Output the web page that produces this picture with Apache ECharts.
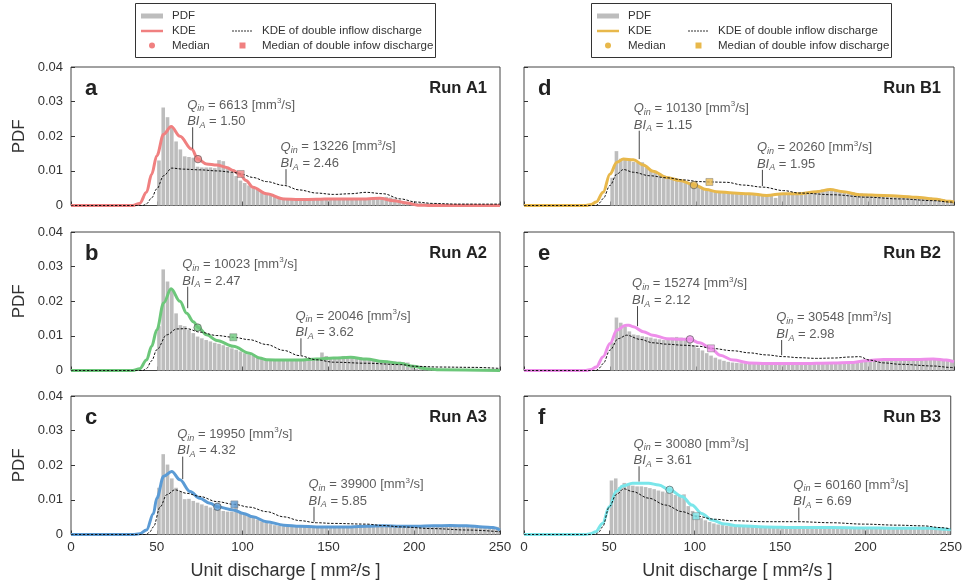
<!DOCTYPE html>
<html><head><meta charset="utf-8">
<script src="https://cdn.jsdelivr.net/npm/echarts/dist/echarts.min.js"></script>
<style>html,body{margin:0;padding:0;background:#fff}#c{width:965px;height:585px}</style>
</head><body><div id="c"></div>
<script>
// ---------------- data ----------------
const xTicks = [0, 50, 100, 150, 200, 250];
const yTicks = [0, 0.01, 0.02, 0.03, 0.04];
const binWidth = 2.5;
const binStarts = [50,52.5,55,57.5,60,62.5,65,67.5,70,72.5,75,77.5,80,82.5,85,87.5,90,92.5,95,97.5,
 100,102.5,105,107.5,110,112.5,115,117.5,120,122.5,125,127.5,130,132.5,135,137.5,140,142.5,145,147.5,
 150,152.5,155,157.5,160,162.5,165,167.5,170,172.5,175,177.5,180,182.5,185,187.5,190,192.5,195,197.5,
 200,202.5,205,207.5,210,212.5,215,217.5,220,222.5,225,227.5,230,232.5,235,237.5,240,242.5,245,247.5];

const histA1 = [0.013,0.0283,0.0255,0.0226,0.0185,0.0162,0.0142,0.014,0.0138,0.0112,0.011,0.011,0.011,0.0108,0.0131,0.0128,0.0112,0.0095,0.0085,0.0072,
 0.0065,0.0058,0.005,0.0045,0.004,0.0035,0.003,0.0027,0.0024,0.0022,0.002,0.002,0.0019,0.0018,0.0018,0.0018,0.0017,0.0017,0.0018,0.0018,
 0.0018,0.0019,0.0019,0.0018,0.0019,0.0019,0.0018,0.0019,0.002,0.002,0.0021,0.0022,0.0023,0.0025,0.0023,0.002,0.0016,0.0013,0.001,0.0008,
 0.0007,0.0007,0.0006,0.0006,0.0006,0.0006,0.0005,0.0005,0.0005,0.0005,0.0005,0.0005,0.0005,0.0005,0.0004,0.0004,0.0004,0.0004,0.0004,0.0004];
const histA2 = [0.0128,0.0292,0.0257,0.0234,0.0165,0.0131,0.0128,0.0118,0.0108,0.0098,0.0093,0.0088,0.0084,0.008,0.0077,0.0073,0.0068,0.0064,0.006,0.0055,
 0.005,0.0046,0.0042,0.0038,0.0035,0.0033,0.0031,0.0031,0.003,0.003,0.003,0.003,0.0031,0.0031,0.0032,0.0032,0.0033,0.0035,0.0052,0.0042,
 0.0038,0.0037,0.0038,0.0042,0.0041,0.004,0.0039,0.0038,0.0036,0.0034,0.0032,0.003,0.0029,0.0028,0.0027,0.0026,0.0025,0.0024,0.0023,0.0012,
 0.0005,0.0004,0.0004,0.0004,0.0004,0.0004,0.0004,0.0004,0.0004,0.0004,0.0004,0.0004,0.0004,0.0004,0.0004,0.0004,0.0004,0.0004,0.0004,0.0004];
const histA3 = [0.0135,0.0232,0.0202,0.0162,0.0135,0.0125,0.0102,0.0103,0.0097,0.0092,0.0087,0.0083,0.0078,0.0074,0.0071,0.0068,0.0066,0.0066,0.0093,0.0065,
 0.0058,0.0053,0.0048,0.0043,0.0038,0.0034,0.003,0.0027,0.0025,0.0024,0.0023,0.0022,0.0022,0.0022,0.0023,0.0022,0.0022,0.0021,0.0022,0.0022,
 0.0022,0.0022,0.0023,0.0022,0.0023,0.0024,0.0024,0.0023,0.0025,0.0025,0.0024,0.0025,0.0024,0.0025,0.0024,0.0024,0.0025,0.0024,0.0024,0.0025,
 0.0024,0.0025,0.0025,0.0026,0.0026,0.0025,0.0026,0.0027,0.0026,0.0027,0.0026,0.0027,0.0026,0.0025,0.0025,0.0024,0.0023,0.0023,0.0022,0.0022];
const histB1 = [0.008,0.0157,0.0135,0.0132,0.0129,0.0126,0.0124,0.0125,0.011,0.0102,0.0096,0.0092,0.0087,0.0083,0.008,0.0077,0.0072,0.0068,0.0064,0.006,
 0.0055,0.0049,0.0045,0.0042,0.004,0.0038,0.0037,0.0036,0.0036,0.0035,0.0035,0.0034,0.0034,0.0033,0.0032,0.0031,0.0031,0.003,0.0022,0.003,
 0.0033,0.0035,0.0036,0.0036,0.0037,0.0038,0.004,0.0042,0.0044,0.0046,0.0047,0.0047,0.0046,0.0044,0.0042,0.004,0.0038,0.0036,0.0035,0.0034,
 0.0033,0.0032,0.0031,0.0031,0.003,0.003,0.0029,0.0029,0.0028,0.0028,0.0027,0.0026,0.0025,0.0024,0.0023,0.0021,0.002,0.0018,0.0016,0.0014];
const histB2 = [0.0081,0.0153,0.0138,0.0126,0.0113,0.0104,0.0102,0.0099,0.0097,0.0095,0.0092,0.009,0.0088,0.0092,0.0095,0.0097,0.0095,0.0088,0.008,0.0073,
 0.0065,0.0058,0.005,0.0043,0.0037,0.0032,0.0028,0.0025,0.0023,0.0022,0.0021,0.0021,0.002,0.002,0.002,0.002,0.002,0.002,0.002,0.002,
 0.002,0.002,0.002,0.002,0.002,0.002,0.0021,0.0021,0.0021,0.0021,0.0022,0.0022,0.0022,0.0023,0.0023,0.0024,0.0025,0.0026,0.0027,0.0028,
 0.003,0.0031,0.0032,0.0032,0.0033,0.0033,0.0033,0.0033,0.0033,0.0033,0.0033,0.0033,0.0033,0.0033,0.0034,0.0034,0.0034,0.0033,0.0032,0.0031];
const histB3 = [0.0156,0.0162,0.0137,0.0149,0.0145,0.0141,0.0139,0.0139,0.0137,0.0134,0.0131,0.0127,0.0124,0.0121,0.0118,0.0114,0.0114,0.0116,0.0082,0.0068,
 0.0056,0.0047,0.0041,0.0036,0.0032,0.0029,0.0027,0.0025,0.0024,0.0023,0.0023,0.0022,0.0022,0.0022,0.0021,0.0021,0.0021,0.0021,0.0021,0.0021,
 0.0021,0.002,0.002,0.002,0.002,0.002,0.002,0.002,0.002,0.002,0.002,0.002,0.002,0.002,0.002,0.002,0.002,0.002,0.0019,0.0019,
 0.0019,0.0019,0.0019,0.0019,0.0019,0.0019,0.0019,0.0019,0.0019,0.0019,0.0019,0.0019,0.0019,0.0019,0.0019,0.0018,0.0018,0.0018,0.0018,0.0018];

const kdeA1 = [[0,0],[36,0],[40,0.0006],[44,0.0038],[47,0.009],[50,0.0144],[54,0.0206],[58.4,0.0228],[63.5,0.02],[70.3,0.0163],[74,0.0134],[79,0.012],[85,0.0117],[90.7,0.011],[94,0.0102],[98.5,0.009],[102,0.0072],[106,0.0053],[114,0.0034],[124,0.0019],[133,0.0017],[143,0.0018],[153,0.0019],[163,0.0019],[172,0.0019],[180,0.0021],[188,0.0014],[196,0.0007],[202,0.0001],[210,0],[250,0]];
const dkdeA1 = [[0,0],[42,0],[44,0.0005],[47,0.0022],[50,0.0048],[54,0.0086],[58.7,0.0108],[65.5,0.0105],[75,0.0103],[85,0.01],[94.6,0.0096],[99,0.0091],[106,0.0081],[114,0.0069],[124,0.0058],[133,0.0045],[143,0.0036],[153,0.0032],[163,0.0034],[172,0.0038],[182,0.0034],[192,0.0019],[201,0.001],[211,0.0006],[225,0.0004],[250,0.0004]];
const kdeA2 = [[0,0],[36,0],[40,0.0005],[44,0.003],[47,0.007],[50,0.0117],[54,0.0195],[58.3,0.0236],[63.5,0.02],[67.4,0.0165],[71.3,0.0141],[74.2,0.0124],[79,0.0103],[85,0.0087],[94.6,0.007],[104,0.005],[110,0.0036],[114,0.0031],[124,0.003],[133,0.003],[143,0.0033],[153,0.0036],[163,0.0038],[172,0.0033],[182,0.0026],[192,0.0021],[199.5,0.0012],[207,0.0005],[215,0.0002],[250,0]];
const dkdeA2 = [[0,0],[42,0],[44,0.0006],[47,0.0028],[50,0.006],[55.8,0.0103],[61.6,0.012],[67.4,0.0121],[75,0.0111],[85,0.0101],[94.6,0.0096],[104,0.0089],[114,0.0075],[124,0.0058],[133,0.0043],[143,0.0031],[153,0.0024],[172,0.0021],[192,0.0017],[201,0.0012],[215,0.001],[235,0.0009],[250,0.0006]];
const kdeA3 = [[0,0],[36,0],[40,0.0002],[44,0.0013],[48,0.006],[50,0.0105],[54,0.0168],[58.7,0.0182],[63.5,0.0158],[69.4,0.0124],[75,0.0105],[81,0.009],[85.3,0.008],[94.6,0.0071],[100.5,0.0061],[106,0.0051],[114,0.0037],[124,0.0027],[133.5,0.0024],[143,0.0022],[153,0.0022],[163,0.0022],[172,0.0024],[182,0.0025],[192,0.0024],[201.5,0.0024],[211,0.0025],[221,0.0026],[230.6,0.0025],[240,0.0022],[246,0.002],[250,0.0013]];
const dkdeA3 = [[0,0],[44,0],[46,0.0008],[48,0.0022],[52,0.008],[55.8,0.0115],[60.6,0.0129],[67.4,0.0119],[75,0.011],[85,0.0095],[95.2,0.0087],[104,0.0079],[114,0.0066],[124,0.0051],[133.5,0.004],[143,0.0034],[153,0.0032],[172,0.003],[182,0.0026],[192,0.0022],[211,0.0017],[230.6,0.0013],[250,0.0008]];
const kdeB1 = [[0,0],[36,0],[39,0.0003],[42,0.001],[46,0.0038],[50,0.0091],[54,0.0125],[57.8,0.0134],[63.6,0.0132],[69.4,0.0117],[75,0.0099],[83,0.0081],[90.7,0.0072],[98.8,0.006],[106,0.0046],[112,0.004],[121.7,0.0036],[131,0.0034],[141,0.0029],[151,0.0034],[160,0.0034],[170,0.004],[178,0.0046],[185.7,0.004],[195,0.0031],[209,0.0029],[218.6,0.0027],[228,0.0024],[238,0.0019],[247.7,0.0012],[250,0.001]];
const dkdeB1 = [[0,0],[42,0],[44,0.0008],[46,0.002],[50,0.0058],[54,0.0091],[57.8,0.0104],[63.6,0.0096],[73,0.0086],[83,0.008],[92.6,0.0074],[102,0.0069],[107.8,0.0068],[117.8,0.0067],[127.5,0.0059],[139,0.0053],[151,0.0043],[160,0.0036],[180,0.0031],[199,0.0024],[218.6,0.0019],[238,0.0014],[247.7,0.001],[250,0.0009]];
const kdeB2 = [[0,0],[36,0],[39,0.0003],[42,0.001],[46,0.004],[50,0.0078],[54,0.0116],[58.7,0.013],[61,0.0131],[63.6,0.0126],[69.4,0.0112],[75,0.0102],[83,0.0092],[90.7,0.009],[96.5,0.009],[102,0.008],[108.7,0.0064],[114,0.0044],[121.7,0.003],[131,0.0022],[141,0.002],[160,0.002],[180,0.0022],[189.5,0.0023],[199,0.0028],[209,0.0032],[218.6,0.0032],[228,0.0032],[238,0.0033],[245.7,0.003],[250,0.0025]];
const dkdeB2 = [[0,0],[42,0],[44,0.0008],[46,0.002],[50,0.0059],[54.8,0.0092],[59.7,0.0102],[67.4,0.009],[75,0.008],[83,0.0076],[92.6,0.0073],[102,0.007],[108.7,0.0064],[121.7,0.0057],[131,0.0051],[141,0.0045],[151,0.004],[160,0.0037],[170,0.0035],[180,0.0036],[189.5,0.0039],[195,0.004],[201,0.003],[209,0.0022],[218.6,0.0018],[238,0.0013],[247.7,0.0009],[250,0.0008]];
const kdeB3 = [[0,0],[36,0],[39,0.0002],[42,0.0008],[46,0.0032],[50,0.008],[54,0.0124],[57.8,0.014],[63.6,0.0148],[73,0.0148],[79,0.0143],[85.3,0.0129],[92.6,0.011],[98.4,0.0085],[104,0.0061],[110,0.0042],[117.8,0.003],[125.6,0.0025],[141,0.0022],[160,0.002],[180,0.002],[199,0.0019],[218.6,0.0018],[238,0.0018],[247.7,0.0015],[250,0.0014]];
const dkdeB3 = [[0,0],[42,0],[44,0.0008],[46,0.0022],[50,0.008],[54,0.0115],[58.5,0.0132],[63.6,0.0124],[73,0.0105],[83,0.0085],[92.6,0.0066],[100.8,0.0053],[112,0.0044],[121.7,0.004],[141,0.0037],[160,0.0037],[180,0.0034],[199,0.003],[218.6,0.0027],[234,0.0025],[244,0.002],[250,0.0016]];

const medA1 = [74, 0.0134],   med2A1 = [98.9, 0.0091];
const medA2 = [73.8, 0.0124], med2A2 = [94.6, 0.0096];
const medA3 = [85.3, 0.008],  med2A3 = [95.2, 0.0087];
const medB1 = [98.8, 0.0059], med2B1 = [107.8, 0.0068];
const medB2 = [96.5, 0.009],  med2B2 = [108.7, 0.0064];
const medB3 = [85.3, 0.0129], med2B3 = [100.8, 0.0053];

const qinA1 = [6613, 13226],  biA1 = ['1.50', '2.46'];
const qinA2 = [10023, 20046], biA2 = ['2.47', '3.62'];
const qinA3 = [19950, 39900], biA3 = ['4.32', '5.85'];
const qinB1 = [10130, 20260], biB1 = ['1.15', '1.95'];
const qinB2 = [15274, 30548], biB2 = ['2.12', '2.98'];
const qinB3 = [30080, 60160], biB3 = ['3.61', '6.69'];

// leader lines: [x, yTop, yBottom]
const leadA1 = [[70.9, 0.0226, 0.0164], [125.3, 0.0105, 0.006]];
const leadA2 = [[68, 0.0242, 0.018], [134, 0.0093, 0.0045]];
const leadA3 = [[65.1, 0.0225, 0.016], [141.6, 0.008, 0.0037]];
const leadB1 = [[67, 0.0216, 0.0134], [138.6, 0.0103, 0.0056]];
const leadB2 = [[66, 0.0186, 0.0128], [149.8, 0.0088, 0.0044]];
const leadB3 = [[67.4, 0.0197, 0.0153], [161, 0.0078, 0.004]];

// ---------------- layout / style ----------------
const FONT = '"Liberation Sans", Arial, Helvetica, sans-serif';
const TXT = '#333';
const panels = [
  {letter:'a', run:'Run A1', col:0, row:0, color:'#f08080', hist:histA1, kde:kdeA1, dkde:dkdeA1, med:medA1, med2:med2A1, qin:qinA1, bi:biA1, lead:leadA1},
  {letter:'b', run:'Run A2', col:0, row:1, color:'#6cc77a', hist:histA2, kde:kdeA2, dkde:dkdeA2, med:medA2, med2:med2A2, qin:qinA2, bi:biA2, lead:leadA2},
  {letter:'c', run:'Run A3', col:0, row:2, color:'#5b9bd5', hist:histA3, kde:kdeA3, dkde:dkdeA3, med:medA3, med2:med2A3, qin:qinA3, bi:biA3, lead:leadA3},
  {letter:'d', run:'Run B1', col:1, row:0, color:'#e8b84b', hist:histB1, kde:kdeB1, dkde:dkdeB1, med:medB1, med2:med2B1, qin:qinB1, bi:biB1, lead:leadB1},
  {letter:'e', run:'Run B2', col:1, row:1, color:'#ee8eea', hist:histB2, kde:kdeB2, dkde:dkdeB2, med:medB2, med2:med2B2, qin:qinB2, bi:biB2, lead:leadB2},
  {letter:'f', run:'Run B3', col:1, row:2, color:'#7ae6ea', hist:histB3, kde:kdeB3, dkde:dkdeB3, med:medB3, med2:med2B3, qin:qinB3, bi:biB3, lead:leadB3}
];
const colLeft = [71, 524], colWidth = [429, 430];
const rowTop = [67, 232, 396], gridH = 138.5;

const rich = {
  n: {fontFamily: FONT, fontSize: 13, color: TXT, lineHeight: 16.5},
  i: {fontFamily: FONT, fontSize: 13, color: TXT, fontStyle: 'italic', lineHeight: 16.5},
  s: {fontFamily: FONT, fontSize: 9, color: TXT, fontStyle: 'italic', lineHeight: 14, verticalAlign: 'bottom'},
  p: {fontFamily: FONT, fontSize: 8, color: TXT, lineHeight: 13, verticalAlign: 'top'}
};

const grids = [], xAxes = [], yAxes = [], series = [], graphics = [];
panels.forEach((p, k) => {
  const left = colLeft[p.col], width = colWidth[p.col], top = rowTop[p.row];
  grids.push({left, top, width, height: gridH, show: true, borderColor: '#444', borderWidth: 1, backgroundColor: '#fff'});
  const bottomRow = p.row === 2, leftCol = p.col === 0;
  xAxes.push({
    gridIndex: k, type: 'value', min: xTicks[0], max: xTicks[xTicks.length - 1], interval: xTicks[1] - xTicks[0],
    axisLine: {show: false},
    axisTick: {show: true, inside: true, length: 4, lineStyle: {color: '#333'}},
    axisLabel: {show: bottomRow, margin: 6, fontFamily: FONT, fontSize: 13.5, color: TXT},
    splitLine: {show: false},
    name: bottomRow ? 'Unit discharge [ mm²/s ]' : '', nameLocation: 'middle', nameGap: 28,
    nameTextStyle: {fontFamily: FONT, fontSize: 18, color: TXT}
  });
  yAxes.push({
    gridIndex: k, type: 'value', min: yTicks[0], max: yTicks[yTicks.length - 1], interval: yTicks[1] - yTicks[0],
    axisLine: {show: false},
    axisTick: {show: true, inside: true, length: 4, lineStyle: {color: '#333'}},
    axisLabel: {show: leftCol, margin: 8, fontFamily: FONT, fontSize: 13, color: TXT,
      formatter: v => v === 0 ? '0' : v.toFixed(2)},
    splitLine: {show: false},
    name: leftCol ? 'PDF' : '', nameLocation: 'middle', nameGap: 43, nameRotate: 90,
    nameTextStyle: {fontFamily: FONT, fontSize: 17, color: TXT}
  });
  // histogram
  series.push({
    type: 'custom', xAxisIndex: k, yAxisIndex: k, silent: true, z: 1,
    data: binStarts.map((b, i) => [b, p.hist[i]]),
    renderItem: (params, api) => {
      const x0 = api.value(0), h = api.value(1);
      const a = api.coord([x0, 0]), b = api.coord([x0 + binWidth, h]);
      return {type: 'rect', shape: {x: a[0] + 0.35, y: b[1], width: b[0] - a[0] - 0.7, height: a[1] - b[1]},
        style: {fill: '#bdbdbd'}};
    }
  });
  // KDE
  series.push({type: 'line', xAxisIndex: k, yAxisIndex: k, data: p.kde, smooth: 0.35, smoothMonotone: 'x',
    symbol: 'none', silent: true, z: 3, lineStyle: {color: p.color, width: 3}});
  // KDE double inflow
  series.push({type: 'line', xAxisIndex: k, yAxisIndex: k, data: p.dkde, smooth: 0.35, smoothMonotone: 'x',
    symbol: 'none', silent: true, z: 4, lineStyle: {color: '#111', width: 1, type: [2.5, 1.5]}});
  // leader lines + annotations
  p.lead.forEach((ld, j) => {
    series.push({type: 'line', xAxisIndex: k, yAxisIndex: k, data: [[ld[0], ld[1]], [ld[0], ld[2]]],
      symbol: 'none', silent: true, z: 5, lineStyle: {color: '#444', width: 1}});
    series.push({type: 'scatter', xAxisIndex: k, yAxisIndex: k, silent: true, z: 6,
      symbolSize: 1, itemStyle: {color: 'rgba(0,0,0,0)'},
      data: [[ld[0], ld[1]]],
      label: {show: true, position: [-5, 3], align: 'left', verticalAlign: 'bottom',
        formatter: '{i|Q}{s|in}{n| = ' + p.qin[j] + ' [mm}{p|3}{n|/s]}\n{i|BI}{s|A}{n| = ' + p.bi[j] + '}',
        rich}
    });
  });
  // medians
  series.push({type: 'scatter', xAxisIndex: k, yAxisIndex: k, silent: true, z: 7, data: [p.med],
    symbol: 'circle', symbolSize: 7.5, itemStyle: {color: p.color, borderColor: '#555', borderWidth: 0.8}});
  series.push({type: 'scatter', xAxisIndex: k, yAxisIndex: k, silent: true, z: 7, data: [p.med2],
    symbol: 'rect', symbolSize: 7, itemStyle: {color: p.color, borderColor: '#777', borderWidth: 0.6}});
  // panel letter and run label
  graphics.push({type: 'text', left: left + 14, top: top + 11, z: 10,
    style: {text: p.letter, font: 'bold 22px ' + FONT, fill: '#222'}});
  graphics.push({type: 'text', right: 965 - (left + width) + 13, top: top + 13, z: 10,
    style: {text: p.run, font: 'bold 16.5px ' + FONT, fill: '#222'}});
});

// legends (drawn as graphic)
function legend(x0, color) {
  const els = [];
  els.push({type: 'rect', shape: {x: x0 + 0.5, y: 3.5, width: 300, height: 54}, style: {fill: '#fff', stroke: '#333', lineWidth: 1}});
  els.push({type: 'rect', shape: {x: x0 + 6, y: 13.5, width: 22, height: 5}, style: {fill: '#bdbdbd'}});
  els.push({type: 'line', shape: {x1: x0 + 6, y1: 31, x2: x0 + 28, y2: 31}, style: {stroke: color, lineWidth: 2.5}});
  els.push({type: 'circle', shape: {cx: x0 + 17, cy: 45.5, r: 3}, style: {fill: color}});
  els.push({type: 'line', shape: {x1: x0 + 97, y1: 31, x2: x0 + 118, y2: 31}, style: {stroke: '#333', lineWidth: 1, lineDash: [2, 1]}});
  els.push({type: 'rect', shape: {x: x0 + 104.5, y: 42.5, width: 6, height: 6}, style: {fill: color}});
  const t = (x, y, s) => ({type: 'text', x, y, style: {text: s, font: '11.5px ' + FONT, fill: TXT, textVerticalAlign: 'middle'}});
  els.push(t(x0 + 37, 16, 'PDF'));
  els.push(t(x0 + 37, 31, 'KDE'));
  els.push(t(x0 + 37, 45.5, 'Median'));
  els.push(t(x0 + 127, 31, 'KDE of double inflow discharge'));
  els.push(t(x0 + 127, 45.5, 'Median of double infow discharge'));
  return {type: 'group', children: els, z: 20};
}
graphics.push(legend(135, '#f08080'));
graphics.push(legend(591, '#e8b84b'));

const chart = echarts.init(document.getElementById('c'), null, {renderer: 'canvas'});
chart.setOption({
  animation: false,
  backgroundColor: '#fff',
  grid: grids, xAxis: xAxes, yAxis: yAxes, series, graphic: graphics
});
</script></body></html>
